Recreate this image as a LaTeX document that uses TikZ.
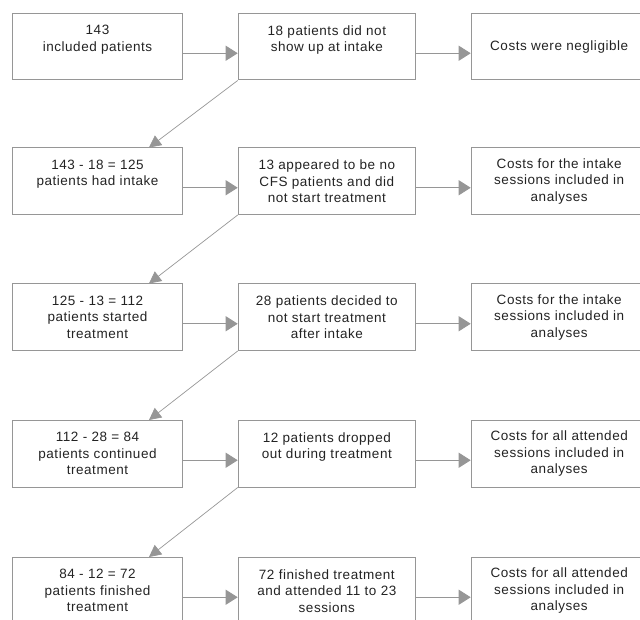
\documentclass[tikz,border=0pt]{standalone}
\usepackage{fontspec}
\setmainfont{Liberation Sans}[LetterSpace=4]
\usetikzlibrary{arrows.meta}
\definecolor{linec}{RGB}{150,150,150}
\definecolor{textc}{RGB}{35,35,35}
\begin{document}
\begin{tikzpicture}[x=1pt,y=-1pt,
  box/.style={draw=linec, line width=1pt, rectangle, minimum height=66.5pt,
    inner sep=0pt, align=center, text=textc,
    font=\fontsize{13.5}{16.5}\selectfont, anchor=north west},
  ca/.style={box, minimum width=170pt},
  cb/.style={box, minimum width=177.3pt},
  cc/.style={box, minimum width=176pt},
  flow/.style={draw=linec, line width=1pt, -{Triangle[length=12pt,width=15pt]}},
  diag/.style={draw=linec, line width=0.7pt, -{Triangle[length=12pt,width=12pt]}}]
\useasboundingbox (0,0) rectangle (640,620);
\clip (0,0) rectangle (640,620);
% row 1
\node[ca] (a1) at (12,13) {143\\included patients\\\mbox{}};
\node[cb] (b1) at (237.7,13) {18 patients did not\\show up at intake\\\mbox{}};
\node[cc] (c1) at (470.7,13) {Costs were negligible};
% row 2
\node[ca] (a2) at (12,147.5) {143 - 18 = 125\\patients had intake\\\mbox{}};
\node[cb] (b2) at (237.7,147.5) {13 appeared to be no\\CFS patients and did\\not start treatment};
\node[cc] (c2) at (470.7,147.5) {Costs for the intake\\sessions included in\\analyses};
% row 3
\node[ca] (a3) at (12,283.5) {125 - 13 = 112\\patients started\\treatment};
\node[cb] (b3) at (237.7,283.5) {28 patients decided to\\not start treatment\\after intake};
\node[cc] (c3) at (470.7,283.5) {Costs for the intake\\sessions included in\\analyses};
% row 4
\node[ca] (a4) at (12,420) {112 - 28 = 84\\patients continued\\treatment};
\node[cb] (b4) at (237.7,420) {12 patients dropped\\out during treatment\\\mbox{}};
\node[cc] (c4) at (470.7,420) {Costs for all attended\\sessions included in\\analyses};
% row 5
\node[ca] (a5) at (12,557) {84 - 12 = 72\\patients finished\\treatment};
\node[cb] (b5) at (237.7,557) {72 finished treatment\\and attended 11 to 23\\sessions};
\node[cc] (c5) at (470.7,557) {Costs for all attended\\sessions included in\\analyses};
% horizontal arrows
\foreach \r in {1,...,5}{
  \draw[flow] ([yshift=-6.5pt]a\r.east) -- ([yshift=-6.5pt]b\r.west);
  \draw[flow] ([yshift=-6.5pt]b\r.east) -- ([yshift=-6.5pt]c\r.west);
}
% diagonal arrows
\draw[diag] (b1.south west) -- ([xshift=-34pt]a2.north east);
\draw[diag] (b2.south west) -- ([xshift=-34pt]a3.north east);
\draw[diag] (b3.south west) -- ([xshift=-34pt]a4.north east);
\draw[diag] (b4.south west) -- ([xshift=-34pt]a5.north east);
\end{tikzpicture}
\end{document}
